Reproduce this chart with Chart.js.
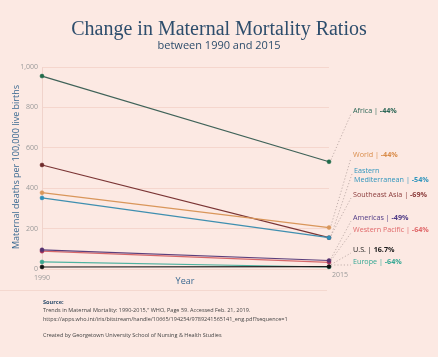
<!DOCTYPE html>
<html><head><meta charset="utf-8">
<script src="https://cdn.jsdelivr.net/npm/chart.js@4/dist/chart.umd.min.js"></script>
<style>html,body{margin:0;padding:0;background:#fce9e3;}#wrap{width:438px;height:357px;}</style>
</head><body><div id="wrap"><canvas id="c" width="438" height="357"></canvas></div>
<script>
const years = ['1990', '2015'];
const yTicks = [0, 200, 400, 600, 800, 1000];
const regions = ['Africa', 'World', 'Eastern Mediterranean', 'Southeast Asia', 'Americas', 'Western Pacific', 'U.S.', 'Europe'];
const africa = [955, 531];
const world = [378, 205];
const easternMed = [352, 155];
const seAsia = [515, 155];
const americas = [95, 42];
const westernPacific = [88, 33];
const us = [10, 12];
const europe = [35, 10];
const changes = ['-44%', '-44%', '-54%', '-69%', '-49%', '-64%', '16.7%', '-64%'];

const lineColors = ['#3f6258', '#d9965a', '#3f8fb0', '#7a3434', '#5b3f7c', '#d7686a', '#1a1a1a', '#4fb3a0'];
const pointColors = ['#1f6b4a', '#d9965a', '#2f8fb8', '#6e2a2a', '#54306e', '#a8345a', '#111111', '#3aa58e'];
const labelColors = ['#2b6656', '#d98c4a', '#2f95bd', '#8a3a3a', '#4f3a86', '#e0686a', '#1a1a1a', '#35a894'];
const seriesData = [africa, world, easternMed, seAsia, americas, westernPacific, us, europe];
// label anchor positions (layout)
const labelPos = [[353,111],[353,155],[354,171],[353,195],[353,218],[353,230],[353,250],[353,262]];

const datasets = regions.map((r, i) => ({
  label: r, data: seriesData[i], borderColor: lineColors[i], backgroundColor: pointColors[i],
  pointBackgroundColor: pointColors[i], pointBorderColor: pointColors[i],
  borderWidth: 1.2, pointRadius: 2, pointBorderWidth: 0.5, pointHoverRadius: 2, clip: false
}));

const bgPlugin = {
  id: 'bg',
  beforeDraw(chart) {
    const ctx = chart.ctx; ctx.save(); ctx.fillStyle = '#fce9e3'; ctx.fillRect(0,0,chart.width,chart.height); ctx.restore();
  },
  afterDraw(chart) {
    const ctx = chart.ctx;
    const xs = chart.scales.x, ys = chart.scales.y;
    ctx.save();
    // titles
    ctx.textAlign = 'center'; ctx.textBaseline = 'alphabetic';
    ctx.fillStyle = '#2d4d6c';
    ctx.font = '20px "Liberation Serif", serif';
    ctx.fillText('Change in Maternal Mortality Ratios', 219, 35);
    ctx.font = '11px "Open Sans", sans-serif';
    ctx.fillText('between 1990 and 2015', 219, 49);
    // axis titles
    ctx.fillStyle = '#3b6a92';
    ctx.font = '9px "Open Sans", sans-serif';
    ctx.fillText('Year', 185, 284);
    ctx.save(); ctx.translate(19, 167); ctx.rotate(-Math.PI/2);
    ctx.fillText('Maternal deaths per 100,000 live births', 0, 0); ctx.restore();
    // x tick labels
    ctx.fillStyle = '#9a9a9a'; ctx.font = '7px "Open Sans", sans-serif';
    ctx.fillText(years[0], xs.getPixelForValue(0), 280);
    ctx.fillText(years[1], xs.getPixelForValue(1) + 11, 277);
    // leader lines
    ctx.setLineDash([1.2, 2]); ctx.lineWidth = 0.8;
    seriesData.forEach((d, i) => {
      const px = xs.getPixelForValue(1), py = ys.getPixelForValue(d[1]);
      ctx.strokeStyle = '#b3a19d';
      ctx.beginPath(); ctx.moveTo(px + 2, py - 2); ctx.lineTo(labelPos[i][0] - 2, labelPos[i][1] + 3); ctx.stroke();
    });
    ctx.setLineDash([]);
    // labels
    ctx.textAlign = 'left'; ctx.textBaseline = 'middle';
    const drawLabel = (name, pct, x, y, col) => {
      ctx.font = '7.2px "Open Sans", sans-serif'; ctx.fillStyle = col;
      const t = name + ' | ';
      ctx.fillText(t, x, y);
      const w = ctx.measureText(t).width;
      ctx.font = 'bold 7.2px "Open Sans", sans-serif';
      ctx.fillText(pct, x + w, y);
    };
    regions.forEach((r, i) => {
      const [x, y] = labelPos[i];
      if (i === 2) {
        ctx.font = '7.2px "Open Sans", sans-serif'; ctx.fillStyle = labelColors[i];
        ctx.fillText('Eastern', x, y);
        drawLabel('Mediterranean', changes[i], x, y + 9, labelColors[i]);
      } else {
        drawLabel(r, changes[i], x, y, labelColors[i]);
      }
    });
    // separator
    ctx.strokeStyle = '#f4d8cf'; ctx.lineWidth = 1;
    ctx.beginPath(); ctx.moveTo(0, 290.5); ctx.lineTo(327, 290.5); ctx.stroke();
    // footer
    ctx.textBaseline = 'alphabetic';
    ctx.fillStyle = '#2d4d6c'; ctx.font = 'bold 5.6px "Open Sans", sans-serif';
    ctx.fillText('Source:', 43, 304);
    ctx.fillStyle = '#444'; ctx.font = '5.5px "Open Sans", sans-serif';
    ctx.fillText('Trends in Maternal Mortality: 1990-2015," WHO, Page 59. Accessed Feb. 21, 2019.', 43, 312);
    ctx.fillText('https://apps.who.int/iris/bitstream/handle/10665/194254/9789241565141_eng.pdf?sequence=1', 43, 320.5);
    ctx.fillText('Created by Georgetown University School of Nursing & Health Studies', 43, 337);
    ctx.restore();
  }
};

new Chart(document.getElementById('c'), {
  type: 'line',
  data: { labels: years, datasets },
  options: {
    responsive: false, animation: false, devicePixelRatio: 1,
    layout: { padding: { left: 0, right: 109, top: 67, bottom: 88 } },
    plugins: { legend: { display: false }, tooltip: { enabled: false }, title: { display: false } },
    scales: {
      x: { type: 'category', offset: false, grid: { display: false }, border: { display: false },
           ticks: { display: false }, afterFit(s) { s.height = 0; } },
      y: { min: 0, max: 1000, afterFit(s) { s.width = 42; },
           afterBuildTicks(s) { s.ticks = yTicks.map(v => ({ value: v })); },
           grid: { color: '#f5d6cd', lineWidth: 1, drawTicks: false },
           border: { display: true, color: '#f0d3cb' },
           ticks: { color: '#9a9a9a', font: { family: 'Open Sans', size: 7 }, padding: 4,
                    callback: v => v.toLocaleString('en-US') } }
    }
  },
  plugins: [bgPlugin]
});
</script></body></html>
